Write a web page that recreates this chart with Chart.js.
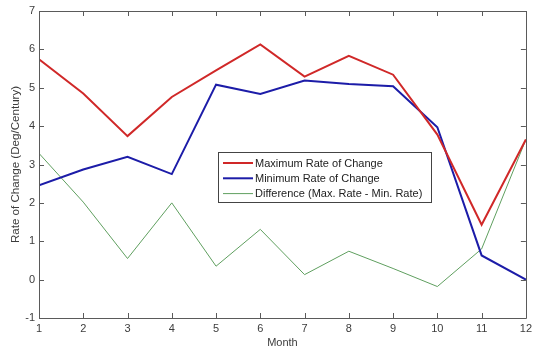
<!DOCTYPE html>
<html>
<head>
<meta charset="utf-8">
<script src="https://cdn.jsdelivr.net/npm/chart.js@4"></script>
<style>
  html, body { margin: 0; padding: 0; background: #fff; }
  #wrap { width: 536px; height: 350px; position: relative; }
</style>
</head>
<body>
<div id="wrap"><canvas id="rateChart"></canvas></div>
<script>
// chart data
const months = [1, 2, 3, 4, 5, 6, 7, 8, 9, 10, 11, 12];
const maxRate = [5.74, 4.85, 3.74, 4.76, 5.45, 6.13, 5.29, 5.83, 5.34, 3.78, 1.43, 3.65];
const minRate = [2.46, 2.87, 3.20, 2.75, 5.08, 4.84, 5.19, 5.10, 5.04, 3.97, 0.63, 0.00];
const diffRate = [3.29, 2.02, 0.55, 2.00, 0.35, 1.31, 0.13, 0.74, 0.29, -0.18, 0.80, 3.65];
const yTicks = [-1, 0, 1, 2, 3, 4, 5, 6, 7];

const seriesNames = ['Maximum Rate of Change', 'Minimum Rate of Change', 'Difference (Max. Rate - Min. Rate)'];
const textColor = '#3c3c3c';
const axisColor = '#5a5a5a';
const FONT = 'Liberation Sans, Arial, sans-serif';

function toPoints(values) {
    return months.map((m, i) => ({ x: m, y: values[i] }));
}

// box round the plot, ticks pointing in, legend inside the plot
const matlabAxes = {
    id: 'matlabAxes',
    afterDraw(chart) {
        const ctx = chart.ctx;
        const area = chart.chartArea;
        const xs = chart.scales.x;
        const ys = chart.scales.y;
        ctx.save();
        ctx.strokeStyle = axisColor;
        ctx.lineWidth = 1;
        ctx.beginPath();
        ctx.rect(Math.round(area.left) + 0.5, Math.round(area.top) + 0.5,
                 Math.round(area.right - area.left), Math.round(area.bottom - area.top));
        ctx.stroke();

        const len = 5;
        ctx.beginPath();
        months.forEach(m => {
            const px = Math.round(xs.getPixelForValue(m)) + 0.5;
            ctx.moveTo(px, area.bottom); ctx.lineTo(px, area.bottom - len);
            ctx.moveTo(px, area.top); ctx.lineTo(px, area.top + len);
        });
        yTicks.forEach(v => {
            const py = Math.round(ys.getPixelForValue(v)) + 0.5;
            ctx.moveTo(area.left, py); ctx.lineTo(area.left + len, py);
            ctx.moveTo(area.right, py); ctx.lineTo(area.right - len, py);
        });
        ctx.stroke();

        // legend
        const bx = 218.5, by = 152.5, bw = 213, bh = 50;
        ctx.fillStyle = '#fff';
        ctx.fillRect(bx, by, bw, bh);
        ctx.strokeStyle = '#444';
        ctx.strokeRect(bx, by, bw, bh);
        ctx.font = '11px ' + FONT;
        ctx.textBaseline = 'middle';
        ctx.textAlign = 'left';
        chart.data.datasets.forEach((ds, i) => {
            const ly = 163 + i * 15.3;
            ctx.strokeStyle = ds.borderColor;
            ctx.lineWidth = ds.borderWidth;
            ctx.beginPath();
            ctx.moveTo(223, ly); ctx.lineTo(253, ly);
            ctx.stroke();
            ctx.fillStyle = '#222';
            ctx.fillText(ds.label, 255, ly + 0.5);
        });
        ctx.restore();
    }
};

new Chart(document.getElementById('rateChart'), {
    type: 'line',
    data: {
        datasets: [
            { label: seriesNames[0], data: toPoints(maxRate), borderColor: '#d02828', borderWidth: 2 },
            { label: seriesNames[1], data: toPoints(minRate), borderColor: '#1c1ca8', borderWidth: 2 },
            { label: seriesNames[2], data: toPoints(diffRate), borderColor: '#5f9f5f', borderWidth: 1 }
        ]
    },
    options: {
        responsive: true,
        maintainAspectRatio: false,
        animation: false,
        elements: { point: { radius: 0 }, line: { tension: 0 } },
        layout: { padding: { top: 11, right: 5, left: 0, bottom: 0 } },
        plugins: { legend: { display: false }, tooltip: { enabled: false } },
        scales: {
            x: {
                type: 'linear',
                min: 1,
                max: 12,
                afterBuildTicks(scale) { scale.ticks = months.map(v => ({ value: v })); },
                afterFit(scale) { scale.height = 32; },
                grid: { display: false, drawTicks: false },
                border: { display: false },
                ticks: { color: textColor, font: { family: FONT, size: 11 }, padding: 4, maxRotation: 0 },
                title: { display: true, text: 'Month', color: textColor, font: { family: FONT, size: 11 }, padding: { top: 0, bottom: 0 } }
            },
            y: {
                min: -1,
                max: 7,
                afterBuildTicks(scale) { scale.ticks = yTicks.map(v => ({ value: v })); },
                afterFit(scale) { scale.width = 39; },
                grid: { display: false, drawTicks: false },
                border: { display: false },
                ticks: { color: textColor, font: { family: FONT, size: 11 }, padding: 4 },
                title: { display: true, text: 'Rate of Change (Deg/Century)', color: textColor, font: { family: FONT, size: 11.6 }, padding: { top: 9, bottom: 0 } }
            }
        }
    },
    plugins: [matlabAxes]
});
</script>
</body>
</html>
